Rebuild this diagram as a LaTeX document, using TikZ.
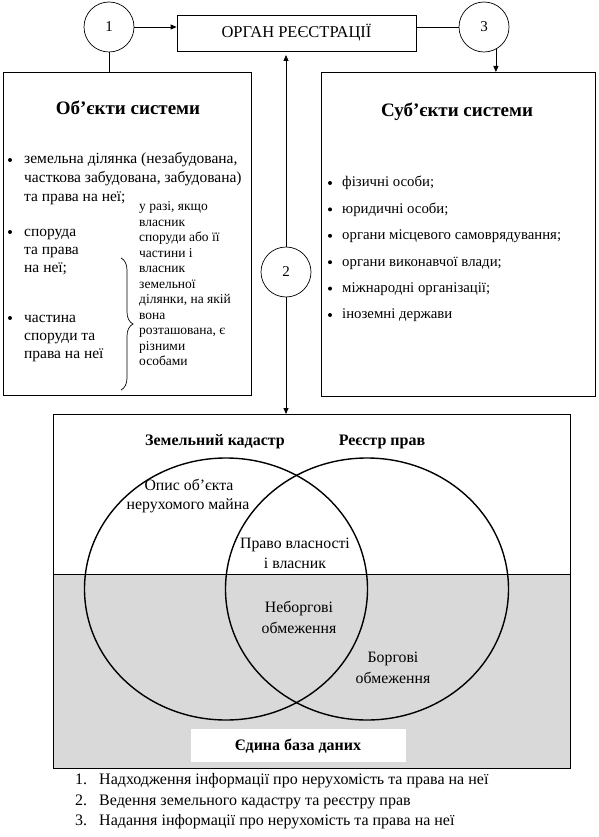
\documentclass[tikz,border=0pt]{standalone}
\usepackage{fontspec}
\setmainfont{Liberation Serif}
\usetikzlibrary{arrows.meta,decorations.pathreplacing}
\definecolor{greyc}{RGB}{217,217,217}
\begin{document}
\begin{tikzpicture}[x=1pt,y=-1pt,
  thinline/.style={line width=0.8pt},
  tipend/.style={-{Triangle[length=6pt,width=5pt]}},
  numcirc/.style={draw, circle, minimum size=50pt, inner sep=0pt, line width=0.7pt, font=\fontsize{15}{17}\selectfont},
  panel/.style={draw, line width=0.9pt, anchor=north west, inner sep=0pt, outer sep=0pt},
  ltxt/.style={anchor=base west, inner sep=0pt, font=\fontsize{15.5}{17}\selectfont},
  rtxt/.style={anchor=base west, inner sep=0pt, font=\fontsize{14.8}{17}\selectfont},
  legtxt/.style={anchor=base west, inner sep=0pt, font=\fontsize{16}{18}\selectfont},
  ctxt/.style={anchor=base, inner sep=0pt, font=\fontsize{15.8}{18}\selectfont},
  notetxt/.style={anchor=base west, inner sep=0pt, font=\fontsize{13.5}{15}\selectfont},
  ttl/.style={anchor=base, inner sep=0pt, font=\fontsize{19}{22}\selectfont\bfseries},
  btl/.style={anchor=base, inner sep=0pt, font=\fontsize{16}{19}\selectfont\bfseries},
  dot/.style={circle, fill, inner sep=0pt, minimum size=4pt},
  venn/.style={line width=1.4pt}
]
\useasboundingbox (0,0) rectangle (598,837);

% top row
\node[numcirc] (c1) at (109,27) {1};
\node[draw, thinline, minimum width=239pt, minimum height=36pt, inner sep=0pt,
      font=\fontsize{16.5}{18}\selectfont] (organ) at (296.5,33) {ОРГАН РЕЄСТРАЦІЇ};
\node[numcirc] (c3) at (484,27) {3};
\node[numcirc] (c2) at (286,272) {2};

% side panels
\node[panel, minimum width=248pt, minimum height=323pt] (obj) at (3,72) {};
\node[panel, minimum width=274pt, minimum height=324pt] (subj) at (321,72) {};

% bottom panel
\filldraw[fill=greyc, thinline] (53,574) rectangle (570,768);
\fill[white] (191,729) rectangle (406,762);
\node[panel, minimum width=517pt, minimum height=354pt] (db) at (53,414) {};
\draw[venn] (226,589) ellipse [x radius=141.5pt, y radius=131pt];
\draw[venn] (367,589) ellipse [x radius=141.5pt, y radius=131pt];

% connectors
\draw[thinline, tipend] (c1) -- (c1 -| organ.west);
\draw[thinline] (organ.east |- c3) -- (c3);
\draw[thinline, tipend] (c3.-62) -- (c3.-62 |- subj.north);
\draw[thinline] (c1.south) -- (c1.south |- obj.north);
\coordinate (uptip) at (286,55);
\draw[thinline, tipend] (c2.north) -- (uptip);
\draw[thinline, tipend] (c2.south) -- (c2.south |- db.north);

% titles
\node[ttl] (objt) at (128,114.5) {Об’єкти системи};
\node[ttl] (subjt) at (457,116.5) {Суб’єкти системи};

% left list
\node[dot] (b1) at (10,160) {};
\node[ltxt] (o1) at (24,164) {земельна ділянка (незабудована,};
\node[ltxt] (o2) at (24,182.5) {часткова забудована, забудована)};
\node[ltxt] (o3) at (24,201) {та права на неї;};
\node[dot] (b2) at (10,232) {};
\node[ltxt] (o4) at (24,236) {споруда};
\node[ltxt] (o5) at (24,254) {та права};
\node[ltxt] (o6) at (24,272) {на неї;};
\node[dot] (b3) at (10,318) {};
\node[ltxt] (o7) at (24,322) {частина};
\node[ltxt] (o8) at (24,340.5) {споруди та};
\node[ltxt] (o9) at (24,358.5) {права на неї};

% note
\foreach \t [count=\i from 0] in {у разі{,} якщо, власник, споруди або її, частини і, власник, земельної, ділянки{,} на якій, вона, розташована{,} є, різними, особами}
  \node[notetxt] (nt\i) at (139,210.5+15.5*\i) {\t};
\draw[line width=0.7pt, decorate, decoration={brace, amplitude=12pt}] (121,258) -- (121,390);

% right list
\foreach \t [count=\i from 0] in {фізичні особи;, юридичні особи;, органи місцевого самоврядування;, органи виконавчої влади;, міжнародні організації;, іноземні держави}
{
  \node[dot] (sb\i) at (330,183+26.4*\i) {};
  \node[rtxt] (st\i) at (342,186.8+26.4*\i) {\t};
}

% bottom labels
\node[btl] (zk) at (215,445.5) {Земельний кадастр};
\node[btl] (rp) at (382,445.5) {Реєстр прав};
\node[ctxt] (op1) at (189,490.5) {Опис об’єкта};
\node[ctxt] (op2) at (188,509.5) {нерухомого майна};
\node[ctxt] (pv1) at (295,548.5) {Право власності};
\node[ctxt] (pv2) at (295,568.5) {і власник};
\node[ctxt] (nb1) at (299,612.5) {Неборгові};
\node[ctxt] (nb2) at (299,633) {обмеження};
\node[ctxt] (bo1) at (393,662.5) {Боргові};
\node[ctxt] (bo2) at (393,683) {обмеження};
\node[btl] (edb) at (298,750.5) {Єдина база даних};

% legend
\node[legtxt] (n1) at (75,784) {1.};
\node[legtxt] (l1) at (99,784) {Надходження інформації про нерухомість та права на неї};
\node[legtxt] (n2) at (75,805) {2.};
\node[legtxt] (l2) at (99,805) {Ведення земельного кадастру та реєстру прав};
\node[legtxt] (n3) at (75,825) {3.};
\node[legtxt] (l3) at (99,825) {Надання інформації про нерухомість та права на неї};
\end{tikzpicture}
\end{document}
